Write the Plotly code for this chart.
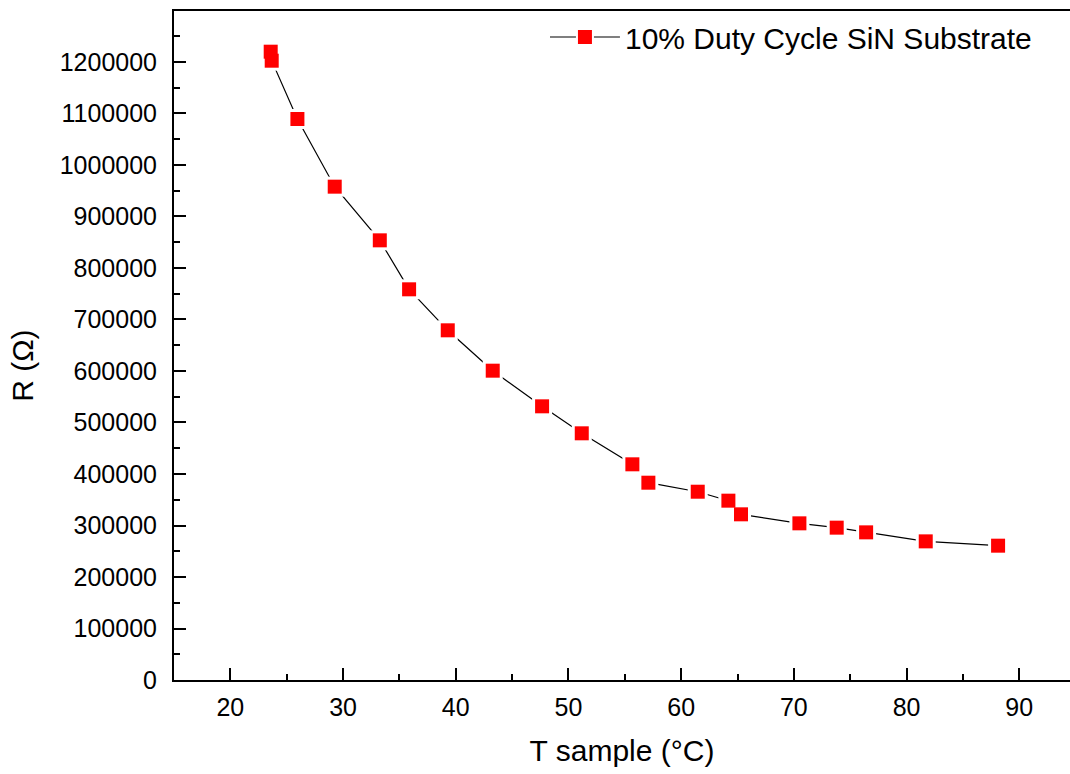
import plotly.graph_objects as go

# Data
T_sample = [23.58, 23.67, 25.95, 29.26, 33.26, 35.86, 39.29, 43.28, 47.66, 51.18,
            55.67, 57.09, 61.47, 64.19, 65.31, 70.49, 73.80, 76.41, 81.70, 88.12]
R_ohm = [1220000, 1202500, 1089300, 957900, 853700, 758600, 679000, 600600, 531400, 479000,
         418800, 383100, 365600, 348200, 321700, 304200, 295800, 286700, 269200, 260800]
series_name = "10% Duty Cycle SiN Substrate"
x_title = "T sample (°C)"
y_title = "R (Ω)"

FONT = "Liberation Sans, Arial, sans-serif"

fig = go.Figure()
# line with white "gap" squares around points (Origin-style gaps)
fig.add_trace(go.Scatter(
    x=T_sample, y=R_ohm, mode="lines+markers",
    line=dict(color="black", width=1.2),
    marker=dict(symbol="square", size=20, color="white", line=dict(width=0)),
    showlegend=False, hoverinfo="skip"))
# red markers
fig.add_trace(go.Scatter(
    x=T_sample, y=R_ohm, mode="markers",
    marker=dict(symbol="square", size=14, color="#ff0000", line=dict(width=0)),
    showlegend=False))
# legend entry
fig.add_trace(go.Scatter(
    x=[None], y=[None], mode="lines+markers", name=series_name,
    line=dict(color="black", width=1.2),
    marker=dict(symbol="square", size=16, color="#ff0000", line=dict(width=2, color="white"))))

fig.update_layout(
    width=1070, height=774,
    margin=dict(l=174, r=0, t=11, b=94),
    plot_bgcolor="white", paper_bgcolor="white",
    font=dict(family=FONT, color="black", size=24),
    legend=dict(x=0.414, y=1.0, xanchor="left", yanchor="top",
                bgcolor="rgba(0,0,0,0)", font=dict(size=30, family=FONT),
                itemwidth=70),
    annotations=[dict(text=y_title, x=-0.169, y=0.469, xref="paper", yref="paper",
                      textangle=-90, showarrow=False, xanchor="center", yanchor="middle",
                      font=dict(size=30, family=FONT))],
)
fig.update_xaxes(
    range=[15, 94.5], dtick=10, tick0=0,
    ticks="inside", ticklen=12, tickwidth=2, tickcolor="black",
    minor=dict(ticks="inside", ticklen=6, tickwidth=2, dtick=5, tick0=0, tickcolor="black"),
    showline=True, linewidth=2, linecolor="black", mirror=True,
    showgrid=False, zeroline=False,
    ticklabelstandoff=4,
    tickfont=dict(size=25, family=FONT),
    title=dict(text=x_title, font=dict(size=30, family=FONT), standoff=20),
)
fig.update_yaxes(
    range=[0, 1299000], dtick=100000, tick0=0, tickformat="d",
    ticks="inside", ticklen=12, tickwidth=2, tickcolor="black",
    minor=dict(ticks="inside", ticklen=6, tickwidth=2, dtick=50000, tick0=0, tickcolor="black"),
    showline=True, linewidth=2, linecolor="black", mirror=False,
    showgrid=False, zeroline=False,
    ticklabelstandoff=10,
    tickfont=dict(size=25, family=FONT),
)

fig.write_html("out.html")
